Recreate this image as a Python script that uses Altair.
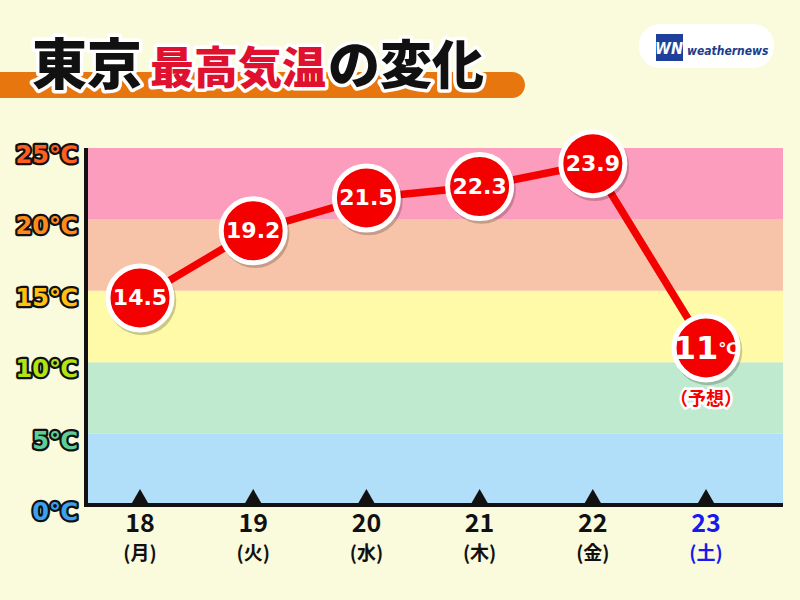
import altair as alt
import pandas as pd

# ---- data ----
days = [18, 19, 20, 21, 22, 23]
weekdays = ["(月)", "(火)", "(水)", "(木)", "(金)", "(土)"]
temps = [14.5, 19.2, 21.5, 22.3, 23.9, 11]
temp_labels = ["14.5", "19.2", "21.5", "22.3", "23.9", "11"]
day_colors = ["#111111", "#111111", "#111111", "#111111", "#111111", "#1a1aee"]

band_low = [0, 5, 10, 15, 20]
band_high = [5, 10, 15, 20, 25]
band_colors = ["#B1DEF8", "#C0EACF", "#FEFAA8", "#F8C4A9", "#FD9DBE"]

ytick_vals = [0, 5, 10, 15, 20, 25]
ytick_text = ["0℃", "5℃", "10℃", "15℃", "20℃", "25℃"]
ytick_colors = ["#3AA2F0", "#5CCF98", "#B2E414", "#FFC012", "#FF8A1C", "#FF5E1E"]

W, H = 697, 357
BG = "#FAFADD"
RED = "#F50000"

xs = alt.Scale(domain=[17.523, 23.68], nice=False, zero=False)
ys = alt.Scale(domain=[0, 25], nice=False, zero=False)

pts = pd.DataFrame({"day": days, "t": temps, "lab": temp_labels,
                    "wd": weekdays, "col": day_colors})
bands = pd.DataFrame({"lo": band_low, "hi": band_high, "col": band_colors})
yt = pd.DataFrame({"v": ytick_vals, "txt": ytick_text, "col": ytick_colors})
one = pd.DataFrame({"a": [0]})

X = alt.X("day:Q", scale=xs, axis=None)
Y = alt.Y("t:Q", scale=ys, axis=None)

band_layer = alt.Chart(bands).mark_rect().encode(
    x=alt.value(2), x2=alt.value(W),
    y=alt.Y("lo:Q", scale=ys, axis=None), y2="hi:Q",
    color=alt.Color("col:N", scale=None))

axis_left = alt.Chart(one).mark_rule(color="#111", strokeWidth=4).encode(
    x=alt.value(0), y=alt.value(0), y2=alt.value(H + 2))
axis_bottom = alt.Chart(one).mark_rule(color="#111", strokeWidth=4).encode(
    x=alt.value(-2), x2=alt.value(W), y=alt.value(H))

ticks = alt.Chart(pts).mark_point(shape="triangle-up", filled=True, color="#111",
                                  size=260, opacity=1).encode(
    x=X, y=alt.value(H - 9))

ylab_stroke = alt.Chart(yt).mark_text(align="right", baseline="middle", dy=8, dx=0,
                                      fontSize=24, fontWeight="bold", font="DejaVu Sans",
                                      stroke="#111", strokeWidth=4.5, strokeJoin="round").encode(
    x=alt.value(-8), y=alt.Y("v:Q", scale=ys, axis=None), text="txt:N")
ylab_fill = alt.Chart(yt).mark_text(align="right", baseline="middle", dy=8,
                                    fontSize=24, fontWeight="bold", font="DejaVu Sans").encode(
    x=alt.value(-8), y=alt.Y("v:Q", scale=ys, axis=None), text="txt:N",
    color=alt.Color("col:N", scale=None))

xlab = alt.Chart(pts).mark_text(baseline="middle", fontSize=25, font="Noto Sans CJK JP",
                                fontWeight="bold").encode(
    x=X, y=alt.value(H + 19), text=alt.Text("day:Q"), color=alt.Color("col:N", scale=None))
wdlab = alt.Chart(pts).mark_text(baseline="middle", fontSize=19, font="Noto Sans CJK JP",
                                 fontWeight="bold").encode(
    x=X, y=alt.value(H + 49), text="wd:N", color=alt.Color("col:N", scale=None))

line = alt.Chart(pts).mark_line(color=RED, strokeWidth=7.5).encode(x=X, y=Y)

shadow = alt.Chart(pts).mark_circle(color="#000", opacity=0.2, size=4700).encode(
    x=X, y=Y, xOffset=alt.value(2), yOffset=alt.value(3))
circles = alt.Chart(pts).mark_circle(color=RED, opacity=1, size=4096,
                                     stroke="white", strokeWidth=5).encode(x=X, y=Y)

vals_main = alt.Chart(pts[pts["day"] < 23]).mark_text(
    color="white", fontSize=22, fontWeight="bold", font="DejaVu Sans",
    baseline="middle").encode(x=X, y=Y, text="lab:N")
val_last = alt.Chart(pts[pts["day"] == 23]).mark_text(
    color="white", fontSize=32, fontWeight="bold", font="DejaVu Sans",
    baseline="middle", dx=-10, dy=1).encode(x=X, y=Y, text="lab:N")
val_deg = alt.Chart(pts[pts["day"] == 23]).mark_text(
    color="white", fontSize=16, fontWeight="bold", font="DejaVu Sans",
    baseline="middle", dx=22, dy=1, text="℃").encode(x=X, y=Y)

yoso_s = alt.Chart(pts[pts["day"] == 23]).mark_text(
    color="white", stroke="white", strokeWidth=5, fontSize=18, fontWeight="bold",
    font="Noto Sans CJK JP", baseline="middle", dy=52, text="（予想）").encode(x=X, y=Y)
yoso = alt.Chart(pts[pts["day"] == 23]).mark_text(
    color=RED, fontSize=18, fontWeight="bold",
    font="Noto Sans CJK JP", baseline="middle", dy=52, text="（予想）").encode(x=X, y=Y)

# ---- header ----
bar = alt.Chart(one).mark_rect(color="#E8760E", cornerRadiusTopRight=13,
                               cornerRadiusBottomRight=13).encode(
    x=alt.value(-90), x2=alt.value(439), y=alt.value(-76), y2=alt.value(-50))

def title_text(txt, x, size, color):
    s = alt.Chart(one).mark_text(text=txt, align="left", baseline="alphabetic",
                                 fontSize=size, fontWeight=900, font="Noto Sans CJK JP",
                                 color="white", stroke="white", strokeWidth=7,
                                 strokeJoin="round").encode(x=alt.value(x), y=alt.value(-64))
    f = alt.Chart(one).mark_text(text=txt, align="left", baseline="alphabetic",
                                 fontSize=size, fontWeight=900, font="Noto Sans CJK JP",
                                 color=color).encode(x=alt.value(x), y=alt.value(-64))
    return [s, f]

title_layers = (title_text("東京", -54, 55, "#111111")
                + title_text("最高気温", 64, 44, "#E0102F")
                + title_text("の変化", 242, 52, "#111111"))

logo_bg = alt.Chart(one).mark_rect(color="white", cornerRadius=21).encode(
    x=alt.value(553), x2=alt.value(688), y=alt.value(-124), y2=alt.value(-80))
logo_sq = alt.Chart(one).mark_rect(color="#1E3F9A").encode(
    x=alt.value(570), x2=alt.value(597), y=alt.value(-114), y2=alt.value(-87))
logo_wn = alt.Chart(one).mark_text(text="WN", color="white", fontSize=16, fontWeight="bold",
                                   fontStyle="italic", font="DejaVu Sans Condensed",
                                   baseline="middle").encode(
    x=alt.value(583), y=alt.value(-99))
logo_txt = alt.Chart(one).mark_text(text="weathernews", color="#1B3C8C", fontSize=12,
                                    fontWeight="bold", fontStyle="italic",
                                    font="DejaVu Sans Condensed",
                                    align="left", baseline="middle").encode(
    x=alt.value(601), y=alt.value(-97))

chart = alt.layer(
    band_layer, axis_bottom, axis_left, ticks,
    ylab_stroke, ylab_fill, xlab, wdlab,
    line, shadow, circles, vals_main, val_last, val_deg, yoso_s, yoso,
    bar, *title_layers, logo_bg, logo_sq, logo_wn, logo_txt,
).properties(
    width=W, height=H,
    padding={"left": 86, "top": 148, "right": 17, "bottom": 95},
    autosize=alt.AutoSizeParams(type="none"),
    background=BG,
).configure_view(stroke=None)

chart.save("out.html", embed_options={"renderer": "svg", "actions": False})
